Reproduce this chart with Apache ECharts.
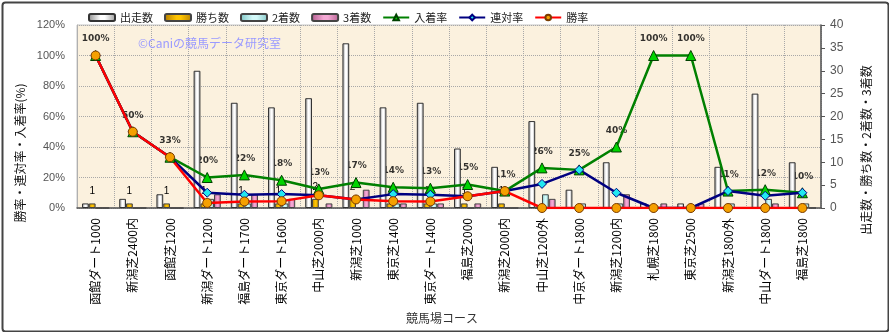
<!DOCTYPE html>
<html><head><meta charset="utf-8">
<script src="https://cdn.jsdelivr.net/npm/echarts@6/dist/echarts.min.js"></script>
<style>html,body{margin:0;padding:0;background:#fff}#c{width:889px;height:332px}</style>
</head><body><div id="c"></div>
<script>
const categories = ['函館ダート1000','新潟芝2400内','函館芝1200','新潟ダート1200','福島ダート1700','東京ダート1600','中山芝2000内','新潟芝1000','東京芝1400','東京ダート1400','福島芝2000','新潟芝2000内','中山芝1200外','中京ダート1800','新潟芝1200内','札幌芝1800','東京芝2500','新潟芝1800外','中山ダート1800','福島芝1800'];
const starts  = [1,2,3,30,23,22,24,36,22,23,13,9,19,4,10,1,1,9,25,10];
const wins    = [1,1,1,1,1,1,2,2,1,1,1,1,0,0,0,0,0,0,0,0];
const seconds = [0,0,0,2,1,1,0,0,1,1,0,0,3,1,1,0,0,1,2,1];
const thirds  = [0,0,0,3,3,2,1,4,1,1,1,0,2,0,3,1,1,0,1,0];
const placeRate    = [100,50,33.3,20,21.7,18.2,12.5,16.7,13.6,13.0,15.4,11.1,26.3,25,40,100,100,11.1,12,10];
const quinellaRate = [100,50,33.3,10,8.7,9.1,8.3,5.6,9.1,8.7,7.7,11.1,15.8,25,10,0,0,11.1,8,10];
const winRate      = [100,50,33.3,3.3,4.3,4.5,8.3,5.6,4.5,4.3,7.7,11.1,0,0,0,0,0,0,0,0];
const leftTicks = {min:0,max:120,interval:20};
const rightTicks = {min:0,max:40,interval:5};

const FONT = '"Noto Sans CJK JP","Noto Sans",sans-serif';
function hgrad(a,b,c){return {type:'linear',x:0,y:0,x2:1,y2:0,colorStops:[{offset:0,color:a},{offset:0.45,color:b},{offset:0.6,color:b},{offset:1,color:c}]};}

const chart = echarts.init(document.getElementById('c'));
const barBase = {type:'bar', yAxisIndex:1, barGap:'0%', barCategoryGap:'27%', z:2};
chart.setOption({
  animation:false,
  backgroundColor:'#ffffff',
  textStyle:{fontFamily:FONT},
  grid:{left:77,right:68,top:25,bottom:124,show:true,backgroundColor:'#fbf1de',borderColor:'#c4c4c4',borderWidth:1},
  legend:{
    left:83, top:7, itemWidth:26, itemHeight:7, itemGap:11,
    textStyle:{fontSize:11,color:'#222',fontFamily:FONT},
    data:['出走数','勝ち数','2着数','3着数','入着率','連対率','勝率']
  },
  xAxis:{
    type:'category', data:categories,
    axisLine:{lineStyle:{color:'#555',width:1.5}},
    axisTick:{show:false},
    axisLabel:{rotate:90, interval:0, margin:10, fontSize:12, color:'#000', fontFamily:FONT},
    splitLine:{show:true, lineStyle:{type:'dotted', color:'#a8a8a8'}}
  },
  yAxis:[
    {type:'value', position:'left', min:leftTicks.min, max:leftTicks.max, interval:leftTicks.interval,
     axisLine:{show:true,lineStyle:{color:'#b0b0b0'}}, axisTick:{show:false},
     axisLabel:{formatter:'{value}%', fontSize:11, color:'#555', margin:12, fontFamily:'"Liberation Sans",sans-serif'},
     splitLine:{show:true, lineStyle:{type:'dotted', color:'#a8a8a8'}}},
    {type:'value', position:'right', min:rightTicks.min, max:rightTicks.max, interval:rightTicks.interval,
     axisLine:{show:true,lineStyle:{color:'#555',width:1.5}}, axisTick:{show:true,length:4,lineStyle:{color:'#555'}},
     axisLabel:{fontSize:12, color:'#555', margin:9, fontFamily:'"Liberation Sans",sans-serif'},
     splitLine:{show:false}}
  ],
  graphic:[
    {type:'rect', left:0, top:0, shape:{x:1,y:1,width:886,height:329,r:3}, style:{fill:'none',stroke:'#444',lineWidth:2}, silent:true},
    {type:'text', x:138, y:37, style:{text:'©Caniの競馬データ研究室', fill:'#9a9aff', font:'12px '+FONT}, z:1},
    {type:'text', x:20, y:153, rotation:Math.PI/2, style:{text:'勝率・連対率・入着率(%)', fill:'#111', font:'12px '+FONT, align:'center', verticalAlign:'middle'}},
    {type:'text', x:866, y:150, rotation:Math.PI/2, style:{text:'出走数・勝ち数・2着数・3着数', fill:'#111', font:'12px '+FONT, align:'center', verticalAlign:'middle'}},
    {type:'text', x:442, y:318, style:{text:'競馬場コース', fill:'#333', font:'12px '+FONT, align:'center', verticalAlign:'middle'}}
  ],
  series:[
    Object.assign({}, barBase, {name:'出走数', data:starts,
      itemStyle:{color:hgrad('#8a8a8a','#ffffff','#9a9a9a'), borderColor:'#333', borderWidth:1}}),
    Object.assign({}, barBase, {name:'勝ち数', data:wins,
      itemStyle:{color:hgrad('#b07a00','#ffc400','#b88200'), borderColor:'#444', borderWidth:1},
      label:{show:true, position:'top', distance:7, fontSize:10, color:'#000', fontFamily:'"Liberation Sans",sans-serif',
        formatter:p=>p.value>0?String(p.value):''}}),
    Object.assign({}, barBase, {name:'2着数', data:seconds,
      itemStyle:{color:hgrad('#7cc4c4','#d4fafa','#88c8c8'), borderColor:'#444', borderWidth:1}}),
    Object.assign({}, barBase, {name:'3着数', data:thirds,
      itemStyle:{color:hgrad('#b05a8c','#f4a8d4','#b86494'), borderColor:'#444', borderWidth:1}}),
    {name:'入着率ラベル', type:'scatter', yAxisIndex:0, data:placeRate, symbol:'triangle', symbolSize:10, z:1,
      itemStyle:{color:'rgba(0,0,0,0)'}, silent:true,
      label:{show:true, position:'top', distance:7, fontSize:9, fontWeight:'bold', color:'#000', fontFamily:'"DejaVu Sans",sans-serif',
        formatter:p=>Math.round(p.value)+'%'}},
    {name:'入着率', type:'line', yAxisIndex:0, data:placeRate, z:3, symbol:'triangle', symbolSize:10,
      lineStyle:{color:'#008000', width:2.5}, itemStyle:{color:'#00d400', borderColor:'#004000', borderWidth:1}},
    {name:'連対率', type:'line', yAxisIndex:0, data:quinellaRate, z:3, symbol:'diamond', symbolSize:9,
      lineStyle:{color:'#000080', width:2.5}, itemStyle:{color:'#22e8f0', borderColor:'#000080', borderWidth:1}},
    {name:'勝率', type:'line', yAxisIndex:0, data:winRate, z:3, symbol:'circle', symbolSize:9,
      lineStyle:{color:'#ff0000', width:2.5}, itemStyle:{color:'#f5a000', borderColor:'#7a3c00', borderWidth:1}}
  ]
});
</script></body></html>
